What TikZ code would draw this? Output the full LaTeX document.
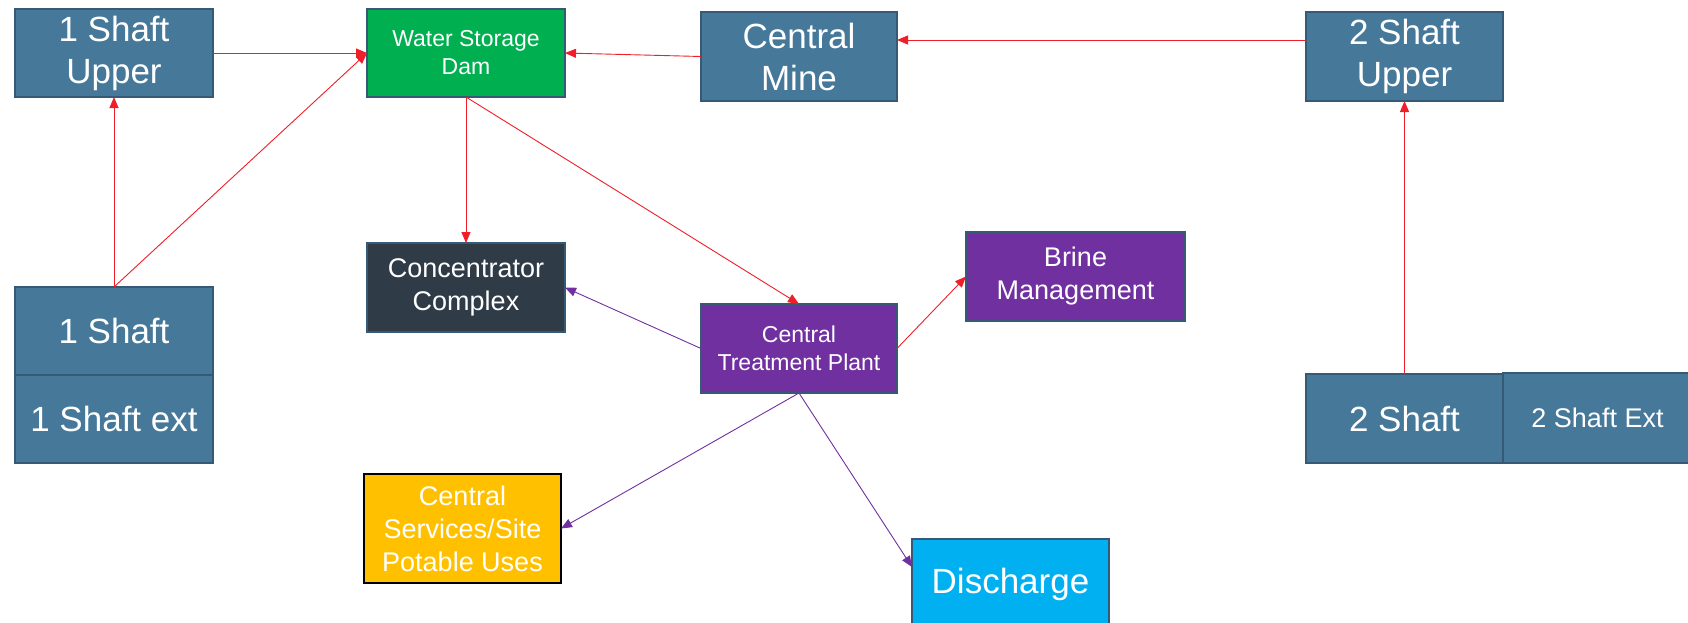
\documentclass[tikz,border=0pt]{standalone}
\usepackage{fontspec}
\setmainfont{Liberation Sans}
\usetikzlibrary{arrows.meta}

\definecolor{shaftblue}{HTML}{46789A}
\definecolor{edgeblue}{HTML}{365A76}
\definecolor{damgreen}{HTML}{00B050}
\definecolor{darkslate}{HTML}{2F3B47}
\definecolor{plantpurple}{HTML}{7030A0}
\definecolor{amber}{HTML}{FFC000}
\definecolor{skycyan}{HTML}{00B0F0}
\definecolor{flowred}{HTML}{F01E28}

\tikzset{
  box/.style={draw=edgeblue, line width=1.5pt, text=white, align=center,
    inner sep=0pt, outer sep=0pt, font=\fontsize{35}{42}\selectfont},
  bluebox/.style={box, fill=shaftblue},
  smalltext/.style={font=\fontsize{23}{28}\selectfont},
  midtext/.style={font=\fontsize{27}{33}\selectfont},
  redflow/.style={draw=flowred, line width=0.9pt,
    -{Triangle[length=11pt,width=9pt]}},
  purpleflow/.style={draw=plantpurple, line width=0.9pt,
    -{Triangle[length=11pt,width=9pt]}},
}

\begin{document}
\begin{tikzpicture}[x=1pt, y=-1pt]
  \useasboundingbox (0,0) rectangle (1688,622);

  % shaft and mine boxes
  \node[bluebox, minimum width=198pt, minimum height=88pt] (su1) at (114,53) {1 Shaft\\Upper};
  \node[bluebox, minimum width=198pt, minimum height=88pt] (s1) at (114,331) {1 Shaft};
  \node[bluebox, minimum width=198pt, minimum height=88pt] (s1x) at (114,419) {1 Shaft ext};
  \node[bluebox, minimum width=196pt, minimum height=89pt] (cm) at (799,56.5) {Central\\Mine};
  \node[bluebox, minimum width=197pt, minimum height=89pt] (su2) at (1404.5,56.5) {2 Shaft\\Upper};
  \node[bluebox, minimum width=197pt, minimum height=89pt] (s2) at (1404.5,418.5) {2 Shaft};
  \node[bluebox, midtext, minimum width=189pt, minimum height=90pt] (s2x) at (1597.5,418) {2 Shaft Ext};

  % water handling boxes
  \node[box, smalltext, fill=damgreen, minimum width=198pt, minimum height=88pt] (dam) at (466,53) {Water Storage\\Dam};
  \node[box, midtext, fill=darkslate, minimum width=198pt, minimum height=89pt] (cc) at (466,287.5) {Concentrator\\Complex};
  \node[box, smalltext, fill=plantpurple, minimum width=196pt, minimum height=89pt] (ctp) at (799,348.5) {Central\\Treatment Plant};
  \node[box, midtext, fill=plantpurple, minimum width=219pt, minimum height=89pt] (brine) at (1075.5,276.5) {Brine\\Management};
  \node[box, midtext, draw=black, fill=amber, minimum width=197pt, minimum height=109pt] (cs) at (462.5,528.5) {Central\\Services/Site\\Potable Uses};
  \node[box, fill=skycyan, minimum width=197pt, minimum height=91pt] (dis) at (1010.5,584.5) {Discharge};

  % red flows
  \draw[redflow] (su1.east) -- (dam.west);
  \draw[redflow] (s1.north) -- (su1.south);
  \draw[redflow] (s1.north) -- (dam.west);
  \draw[redflow] (dam.south) -- (cc.north);
  \draw[redflow] (dam.south) -- (ctp.north);
  \draw[redflow] (cm.west) -- (dam.east);
  \draw[redflow] ([yshift=16.5pt]su2.west) -- ([yshift=16.5pt]cm.east);
  \draw[redflow] (s2.north) -- (su2.south);
  \draw[redflow] (ctp.east) -- (brine.west);

  % purple flows
  \draw[purpleflow] (ctp.west) -- (cc.east);
  \draw[purpleflow] (ctp.south) -- (cs.east);
  \draw[purpleflow] (ctp.south) -- ([yshift=17.5pt]dis.west);
\end{tikzpicture}
\end{document}
